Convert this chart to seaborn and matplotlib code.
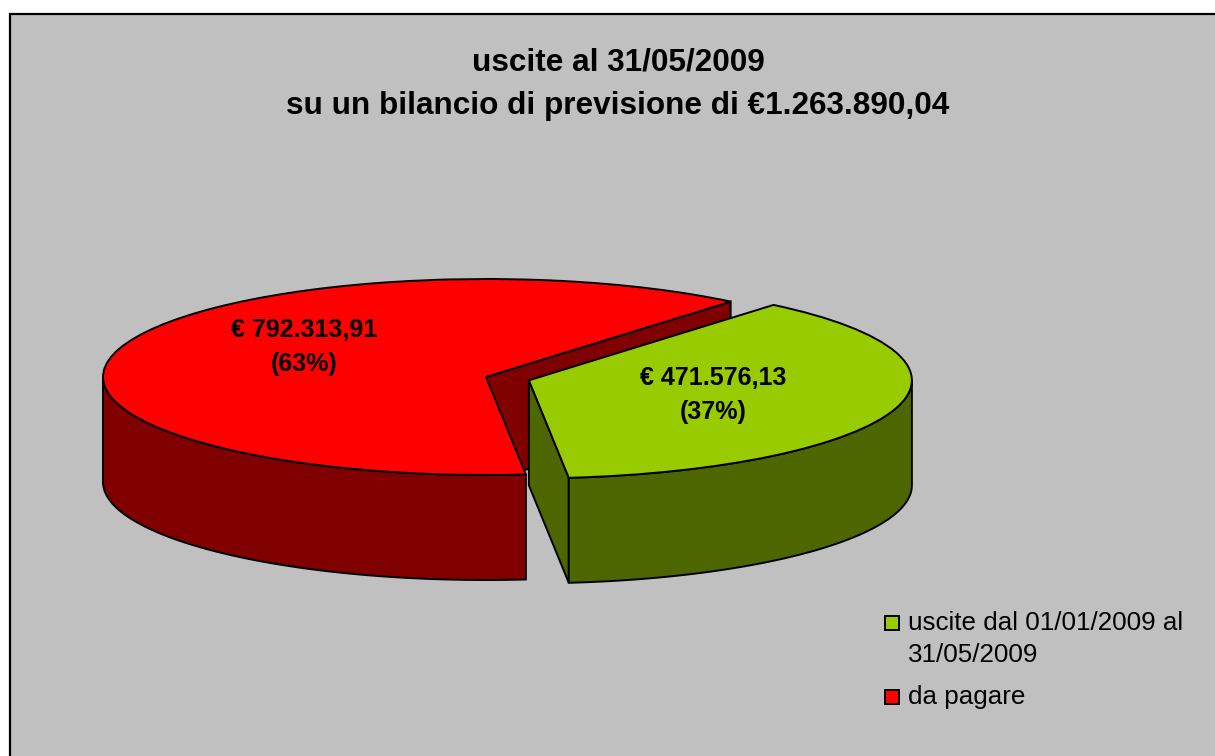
"""Exploded pseudo-3D pie of the 2009 budget, drawn on a pie whose axes are squashed."""
import matplotlib
matplotlib.use("Agg")
import matplotlib.pyplot as plt
import numpy as np
import seaborn as sns
from matplotlib.patches import Rectangle

W, H = 1215, 756

# data
categories = ["uscite dal 01/01/2009 al\n31/05/2009", "da pagare"]
values = [471576.13, 792313.91]
value_labels = ["€ 471.576,13\n(37%)", "€ 792.313,91\n(63%)"]
title = "uscite al 31/05/2009\nsu un bilancio di previsione di €1.263.890,04"
top_colors = ["#99CC00", "#FF0000"]
side_colors = ["#4D6600", "#800000"]

# layout, in reference pixels
CX, CY = 486, 377     # centre of the red slice
RX, RY = 383, 98      # ellipse semi-axes
DEPTH = 105 / RY      # pie thickness in y units
START = 50.3

sns.set_theme(style="white")
plt.rcParams["font.family"] = ["Liberation Sans", "DejaVu Sans"]


def fx(px):
    return px / W


def fy(py):
    return 1 - py / H


def rim_points(center, a0, a1):
    # outer wall between angles a0 and a1 (degrees)
    t = np.radians(np.linspace(a0, a1, 90))
    x = center[0] + np.cos(t)
    y = center[1] + np.sin(t)
    return np.r_[x, x[::-1]], np.r_[y, y[::-1] - DEPTH]


def cut_face(center, a):
    t = np.radians(a)
    x = [center[0], center[0] + np.cos(t), center[0] + np.cos(t), center[0]]
    y = [center[1], center[1] + np.sin(t), center[1] + np.sin(t) - DEPTH, center[1] - DEPTH]
    return x, y


fig = plt.figure(figsize=(W / 100, H / 100), dpi=100, facecolor="white")
fig.add_artist(Rectangle((fx(9.5), -0.05), 1.1, fy(14.5) + 0.05, transform=fig.transFigure,
                         facecolor="#C0C0C0", edgecolor="black", linewidth=1.6, zorder=-1))

ax = fig.add_axes([0, 0, 1, 1])
wedges, _ = ax.pie(
    values,
    colors=top_colors,
    explode=[0.117, 0],
    startangle=START,
    counterclock=False,
    wedgeprops={"edgecolor": "black", "linewidth": 1.4},
)
ax.set_aspect("auto")
ax.set_xlim(-CX / RX, (W - CX) / RX)
ax.set_ylim((CY - H) / RY, CY / RY)

green, red = wedges
split = START - 360 * values[0] / sum(values)
line = {"edgecolor": "black", "linewidth": 1.4}

# red body first, green body in front of it
x, y = cut_face(red.center, START)
ax.fill(x, y, facecolor=side_colors[1], zorder=1, **line)
x, y = rim_points(red.center, split, -180)
ax.fill(x, y, facecolor=side_colors[1], zorder=1, **line)
red.set_zorder(2)

x, y = cut_face(green.center, split)
ax.fill(x, y, facecolor=side_colors[0], zorder=3, **line)
x, y = rim_points(green.center, 0, split)
ax.fill(x, y, facecolor=side_colors[0], zorder=3, **line)
green.set_zorder(4)

fig.text(fx(618), fy(84), title, ha="center", va="center", fontsize=22.7,
         fontweight="bold", color="black", linespacing=1.6, zorder=10)
fig.text(fx(713), fy(395), value_labels[0], ha="center", va="center", fontsize=18,
         fontweight="bold", color="black", linespacing=1.5, zorder=10)
fig.text(fx(304), fy(347), value_labels[1], ha="center", va="center", fontsize=18,
         fontweight="bold", color="black", linespacing=1.5, zorder=10)

# legend by hand, the swatch sits on the first line of the wrapped label
for label, color, top in zip(categories, top_colors, [616, 690]):
    fig.add_artist(Rectangle((fx(885), fy(top + 14)), 14 / W, 14 / H, transform=fig.transFigure,
                             facecolor=color, edgecolor="black", linewidth=1.4, zorder=10))
    fig.text(fx(908), fy(top - 5), label, ha="left", va="top", fontsize=18.7,
             color="black", linespacing=1.42, zorder=10)

fig.savefig("out.png", dpi=100, facecolor="white")
